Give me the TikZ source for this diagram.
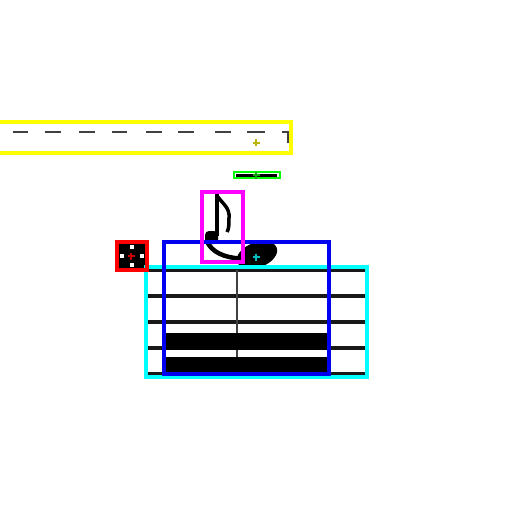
\documentclass[tikz,border=0pt]{standalone}
\begin{document}
\begin{tikzpicture}[x=1pt,y=-1pt,
  bbox/.style={line width=3.2pt},
  mk/.style={line width=2pt},
  staffline/.style={line width=3.5pt, black!90},
  dashline/.style={line width=2.6pt, black!75},
  ink/.style={line width=4pt, black}
]
\useasboundingbox (0,0) rectangle (512,512);
\definecolor{ylw}{RGB}{255,255,0}
\definecolor{grn}{RGB}{0,255,0}
\definecolor{mag}{RGB}{255,0,255}
\definecolor{cyn}{RGB}{0,255,255}
\definecolor{blu}{RGB}{0,0,240}
\definecolor{rd}{RGB}{255,0,0}
\definecolor{mky}{RGB}{185,180,0}
\definecolor{mkg}{RGB}{0,165,0}
\definecolor{mkc}{RGB}{0,190,190}
\definecolor{mkr}{RGB}{200,0,0}
% dashed line in yellow region
\foreach \a/\b in {13/28,45/61,79/95,112/127,146/162,178/194,215/231,247/265}
  \draw[dashline] (\a,132)--(\b,132);
\draw[dashline] (282,132)--(288,132)--(288,143);
% staff
\foreach \y in {270,296,322,348,374} \draw[staffline] (146,\y)--(367,\y);
\draw[line width=1.6pt, black!75] (237,270)--(237,374);
\fill (165,333) rectangle (328,349.5);
\fill (165,357) rectangle (328,374);
% notehead
\fill[rotate around={20:(257,255)}] (257,255) ellipse (21pt and 12.5pt);
% flag and stem
\draw[ink] (217,194)--(217,236);
\draw[line width=3.5pt] (218,197) .. controls (223,204) and (230,208) .. (229,218) .. controls (229,224) and (229,229) .. (227,232);
\fill[rounded corners=4pt] (205,231) rectangle (218,244);
\draw[line width=4.5pt] (207,241) .. controls (211,252) and (225,258) .. (241,258.5);
% green item line
\draw[line width=3.2pt] (236,176)--(277,176);
% red item
\fill (119,244) rectangle (145,268);
\fill[white] (120,254) rectangle (124,258);
\fill[white] (140,254) rectangle (144,258);
\fill[white] (130,245) rectangle (134,249);
\fill[white] (130,263) rectangle (134,267);
% boxes
\draw[bbox, cyn] (146,267) rectangle (367,377);
\draw[bbox, blu] (164,242) rectangle (329,374);
\draw[bbox, rd] (117,242) rectangle (147,270);
\draw[bbox, mag] (202,192) rectangle (243,262);
\draw[line width=2.2pt, grn] (234,172.2) rectangle (280,178.2);
\draw[bbox, ylw] (-2,122) rectangle (291,153);
% markers
\foreach \px/\py/\c in {256/142.5/mky,256/175/mkg,256/257/mkc,131/256/mkr}{
  \draw[mk, \c] (\px-3.5,\py)--(\px+3.5,\py);
  \draw[mk, \c] (\px,\py-3.5)--(\px,\py+3.5);
}
\end{tikzpicture}
\end{document}
